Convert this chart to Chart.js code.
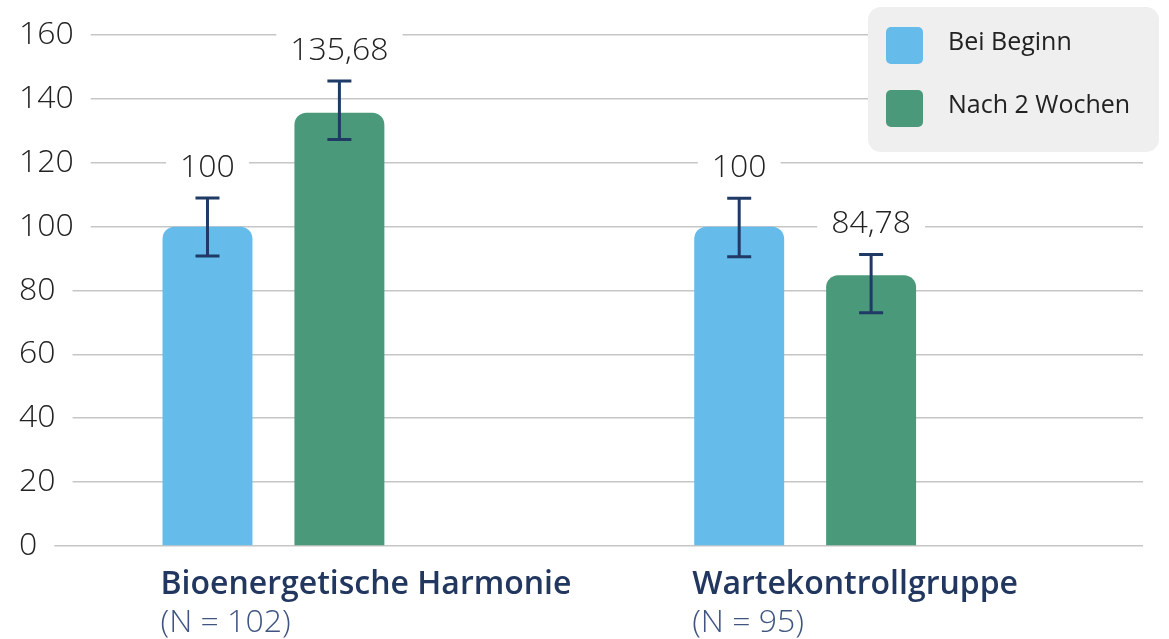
<!DOCTYPE html>
<html>
<head>
<meta charset="utf-8">
<script src="https://cdn.jsdelivr.net/npm/chart.js@4.4.0/dist/chart.umd.min.js"></script>
<style>
html, body { margin: 0; padding: 0; background: #ffffff; }
#wrap { width: 1169px; height: 639px; position: relative; }
</style>
</head>
<body>
<div id="wrap"><canvas id="c"></canvas></div>
<script>
// ---- data ----
const categories = ['Bioenergetische Harmonie', 'Wartekontrollgruppe'];
const sampleSizes = ['(N = 102)', '(N = 95)'];
const seriesNames = ['Bei Beginn', 'Nach 2 Wochen'];
const beginValues = [100, 100];
const afterValues = [135.68, 84.78];
const beginErrLow = [90.8, 90.6];
const beginErrHigh = [109.0, 108.9];
const afterErrLow = [127.3, 73.0];
const afterErrHigh = [145.6, 91.3];
const yTickValues = [0, 20, 40, 60, 80, 100, 120, 140, 160];

// ---- styles ----
const BLUE = '#65bbea';
const GREEN = '#4a997a';
const NAVY = '#1f3a64';
const FONT = '"Open Sans", "Noto Sans", sans-serif';

const errors = [
  { low: beginErrLow, high: beginErrHigh },
  { low: afterErrLow, high: afterErrHigh }
];

const toPoints = vals => vals.map((v, i) => ({ x: i, y: v }));

const legendPlugin = {
  id: 'boxLegend',
  beforeDatasetsDraw(chart) {
    const ctx = chart.ctx;
    ctx.save();
    ctx.fillStyle = '#efefef';
    ctx.beginPath();
    ctx.roundRect(868, 7, 291, 145, 13);
    ctx.fill();
    chart.data.datasets.forEach((ds, i) => {
      const y = 27 + i * 63;
      ctx.fillStyle = ds.backgroundColor;
      ctx.beginPath();
      ctx.roundRect(886, y, 37, 37, 5);
      ctx.fill();
      ctx.fillStyle = '#222222';
      ctx.font = '400 25px ' + FONT;
      ctx.textBaseline = 'middle';
      ctx.textAlign = 'left';
      ctx.fillText(ds.label, 948, y + 16);
    });
    ctx.restore();
  }
};

const errorPlugin = {
  id: 'errorBarsLabels',
  afterDatasetsDraw(chart) {
    const ctx = chart.ctx;
    const yS = chart.scales.y;
    ctx.save();
    chart.data.datasets.forEach((ds, di) => {
      const meta = chart.getDatasetMeta(di);
      meta.data.forEach((bar, j) => {
        const x = bar.x;
        const yTop = yS.getPixelForValue(errors[di].high[j]);
        const yBot = yS.getPixelForValue(errors[di].low[j]);
        ctx.strokeStyle = NAVY;
        ctx.lineWidth = 3;
        ctx.lineCap = 'butt';
        ctx.beginPath();
        ctx.moveTo(x, yTop); ctx.lineTo(x, yBot);
        ctx.moveTo(x - 12, yTop); ctx.lineTo(x + 12, yTop);
        ctx.moveTo(x - 12, yBot); ctx.lineTo(x + 12, yBot);
        ctx.stroke();
        // value label
        const txt = ds.data[j].y.toLocaleString('de-DE');
        ctx.font = '300 32px ' + FONT;
        const w = ctx.measureText(txt).width;
        const base = yTop - 21;
        ctx.fillStyle = '#ffffff';
        ctx.fillRect(x - w / 2 - 14, base - 31, w + 28, 39);
        ctx.fillStyle = '#222222';
        ctx.textAlign = 'center';
        ctx.textBaseline = 'alphabetic';
        ctx.fillText(txt, x, base);
      });
    });
    ctx.restore();
  }
};

const xMin = -0.3262, xMax = 1.6354;

new Chart(document.getElementById('c'), {
  type: 'bar',
  data: {
    datasets: [
      { label: seriesNames[0], data: toPoints(beginValues), backgroundColor: BLUE },
      { label: seriesNames[1], data: toPoints(afterValues), backgroundColor: GREEN }
    ]
  },
  options: {
    responsive: true,
    maintainAspectRatio: false,
    animation: false,
    devicePixelRatio: 1,
    layout: { padding: { left: 19, right: 26, top: 35, bottom: 0 } },
    datasets: {
      bar: {
        barPercentage: 0.6818,
        categoryPercentage: 0.4962,
        borderRadius: 12,
        borderSkipped: 'start'
      }
    },
    plugins: {
      legend: { display: false },
      tooltip: { enabled: false }
    },
    scales: {
      x: {
        type: 'linear',
        position: 'bottom',
        offset: false,
        bounds: 'data',
        min: xMin, max: xMax,
        afterBuildTicks: ax => { ax.ticks = categories.map((c, i) => ({ value: i })); },
        grid: { display: false, offset: false },
        border: { display: false },
        ticks: {
          callback: v => categories[v],
          align: 'start',
          labelOffset: -113,
          autoSkip: false,
          maxRotation: 0,
          padding: 12,
          color: '#22375f',
          font: { family: FONT, size: 32, weight: '600' }
        },
        afterFit: ax => { ax.height = 56; }
      },
      x2: {
        type: 'linear',
        position: 'bottom',
        offset: false,
        bounds: 'data',
        min: xMin, max: xMax,
        afterBuildTicks: ax => { ax.ticks = sampleSizes.map((c, i) => ({ value: i })); },
        grid: { display: false, offset: false },
        border: { display: false },
        ticks: {
          callback: v => sampleSizes[v],
          align: 'start',
          labelOffset: -113,
          autoSkip: false,
          maxRotation: 0,
          padding: -6,
          color: '#3f5580',
          font: { family: FONT, size: 32, weight: '300' }
        },
        afterFit: ax => { ax.height = 37; }
      },
      y: {
        bounds: 'data',
        min: 0, max: 160,
        afterBuildTicks: ax => { ax.ticks = yTickValues.map(v => ({ value: v })); },
        grid: { color: '#c6c6c6', lineWidth: 1.6, drawTicks: true, tickLength: 46 },
        border: { display: false },
        ticks: {
          crossAlign: 'far',
          padding: 0,
          color: '#222222',
          font: { family: FONT, size: 32, weight: '300' },
          showLabelBackdrop: true,
          backdropColor: '#ffffff',
          backdropPadding: { left: 0, right: 17, top: 0, bottom: 0 }
        },
        afterFit: ax => { ax.width = 81; }
      }
    }
  },
  plugins: [legendPlugin, errorPlugin]
});
</script>
</body>
</html>
